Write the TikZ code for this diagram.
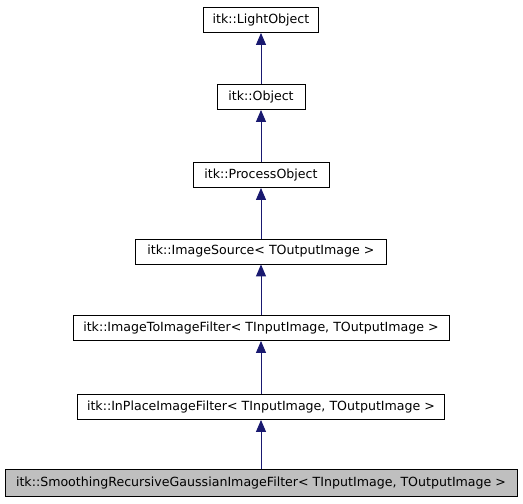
\documentclass[tikz,border=0pt]{standalone}
\usepackage{fontspec}
\setmainfont{DejaVu Sans}
\usetikzlibrary{arrows.meta}
\definecolor{edgeblue}{HTML}{191970}
\definecolor{boxgray}{HTML}{BFBFBF}
\begin{document}
\begin{tikzpicture}[x=1pt,y=-1pt,
  cls/.style={draw=black, line width=0.9pt, fill=white, inner sep=0pt, minimum height=25pt,
    font=\fontsize{12.6}{14}\selectfont},
  cur/.style={cls, fill=boxgray, minimum height=27pt},
  inh/.style={draw=edgeblue, line width=1pt, -{Triangle[length=12pt,width=10pt]}}]
\useasboundingbox (0,0) rectangle (523,504);
\node[cls, minimum width=115pt] (n1) at (261,20) {itk::LightObject};
\node[cls, minimum width=88pt] (n2) at (261,97) {itk::Object};
\node[cls, minimum width=136pt] (n3) at (261,175) {itk::ProcessObject};
\node[cls, minimum width=251pt] (n4) at (261,251.5) {itk::ImageSource< TOutputImage >};
\node[cls, minimum width=376pt] (n5) at (261,328) {itk::ImageToImageFilter< TInputImage, TOutputImage >};
\node[cls, minimum width=367pt] (n6) at (261,407) {itk::InPlaceImageFilter< TInputImage, TOutputImage >};
\node[cur, minimum width=512pt] (n7) at (261,483) {itk::SmoothingRecursiveGaussianImageFilter< TInputImage, TOutputImage >};
\draw[inh] (n2.north) -- (n1.south);
\draw[inh] (n3.north) -- (n2.south);
\draw[inh] (n4.north) -- (n3.south);
\draw[inh] (n5.north) -- (n4.south);
\draw[inh] (n6.north) -- (n5.south);
\draw[inh] (n7.north) -- (n6.south);
\end{tikzpicture}
\end{document}
